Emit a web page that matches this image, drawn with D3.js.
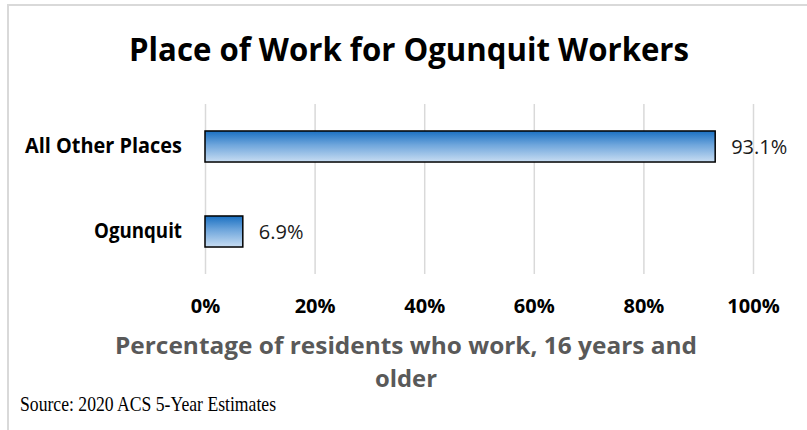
<!DOCTYPE html>
<html>
<head>
<meta charset="utf-8">
<script src="https://cdn.jsdelivr.net/npm/d3@7"></script>
<style>
  body { margin: 0; background: #fff; }
  svg { display: block; }
</style>
</head>
<body>
<svg id="chart" width="807" height="430"></svg>
<script>
// data
const categories = ["All Other Places", "Ogunquit"];
const shares = [93.1, 6.9];
const tickValues = [0, 20, 40, 60, 80, 100];
const titleText = "Place of Work for Ogunquit Workers";
const axisTitleLines = ["Percentage of residents who work, 16 years and", "older"];
const sourceText = "Source: 2020 ACS 5-Year Estimates";

const rows = categories.map((c, i) => ({ name: c, value: shares[i] }));

const svg = d3.select("#chart");
const plot = { left: 205, right: 753, top: 104, bottom: 274 };

// chart frame (right and bottom edges fall outside the picture)
svg.append("rect")
  .attr("x", 8).attr("y", 5)
  .attr("width", 820).attr("height", 450)
  .attr("fill", "#fff")
  .attr("stroke", "#d9d9d9")
  .attr("stroke-width", 2);

const x = d3.scaleLinear().domain([0, 100]).range([plot.left, plot.right]);
const y = d3.scaleBand()
  .domain(categories)
  .range([plot.top, plot.bottom])
  .paddingInner(0.635)
  .paddingOuter(0.3175);

// bar gradient
const grad = svg.append("defs").append("linearGradient")
  .attr("id", "barFill")
  .attr("x1", 0).attr("y1", 0).attr("x2", 0).attr("y2", 1);
grad.append("stop").attr("offset", "0%").attr("stop-color", "#1a70c2");
grad.append("stop").attr("offset", "45%").attr("stop-color", "#6fa6dc");
grad.append("stop").attr("offset", "100%").attr("stop-color", "#c8ddf2");

// x axis: gridlines + bold tick labels
const xAxis = svg.append("g")
  .attr("transform", `translate(0,${plot.bottom})`)
  .call(d3.axisBottom(x)
    .tickValues(tickValues)
    .tickFormat(d => d + "%")
    .tickSize(-(plot.bottom - plot.top))
    .tickPadding(25));
xAxis.select(".domain").remove();
xAxis.selectAll(".tick line")
  .attr("stroke", "#d9d9d9")
  .attr("stroke-width", 1.5);
xAxis.selectAll(".tick text")
  .attr("fill", "#000")
  .style("font-family", "'Open Sans', sans-serif")
  .style("font-weight", "700")
  .style("font-size", "20px");

// y axis: category labels
const yAxis = svg.append("g")
  .attr("transform", `translate(${plot.left},0)`)
  .call(d3.axisLeft(y).tickSize(0).tickPadding(23));
yAxis.select(".domain").remove();
yAxis.selectAll(".tick text")
  .attr("fill", "#000")
  .attr("dy", "0.34em")
  .attr("textLength", d => d === "Ogunquit" ? 88 : 157)
  .attr("lengthAdjust", "spacingAndGlyphs")
  .style("font-family", "'Open Sans', sans-serif")
  .style("font-weight", "700")
  .style("font-size", "20.5px");

// bars
svg.append("g").selectAll("rect")
  .data(rows)
  .join("rect")
  .attr("x", x(0))
  .attr("y", d => y(d.name))
  .attr("width", d => x(d.value) - x(0))
  .attr("height", y.bandwidth())
  .attr("fill", "url(#barFill)")
  .attr("stroke", "#000")
  .attr("stroke-width", 1.5);

// data labels
svg.append("g").selectAll("text")
  .data(rows)
  .join("text")
  .attr("x", d => x(d.value) + 16)
  .attr("y", d => y(d.name) + y.bandwidth() / 2)
  .attr("dy", "0.35em")
  .attr("fill", "#1a1a1a")
  .style("font-family", "'Open Sans', sans-serif")
  .style("font-size", "20px")
  .text(d => d.value.toFixed(1) + "%");

// title
svg.append("text")
  .attr("x", 409).attr("y", 61)
  .attr("text-anchor", "middle")
  .attr("textLength", 560)
  .attr("lengthAdjust", "spacingAndGlyphs")
  .attr("fill", "#000")
  .style("font-family", "'Open Sans', sans-serif")
  .style("font-weight", "700")
  .style("font-size", "32px")
  .text(titleText);

// axis title (two lines)
svg.append("g").selectAll("text")
  .data(axisTitleLines)
  .join("text")
  .attr("x", 406)
  .attr("y", (d, i) => 354 + i * 33)
  .attr("text-anchor", "middle")
  .attr("textLength", (d, i) => i === 0 ? 582 : 62)
  .attr("lengthAdjust", "spacingAndGlyphs")
  .attr("fill", "#595959")
  .style("font-family", "'Open Sans', sans-serif")
  .style("font-weight", "700")
  .style("font-size", "23.5px")
  .text(d => d);

// source note
svg.append("text")
  .attr("x", 20).attr("y", 411)
  .attr("textLength", 256)
  .attr("lengthAdjust", "spacingAndGlyphs")
  .attr("fill", "#000")
  .style("font-family", "'Liberation Serif', serif")
  .style("font-size", "22px")
  .text(sourceText);
</script>
</body>
</html>
